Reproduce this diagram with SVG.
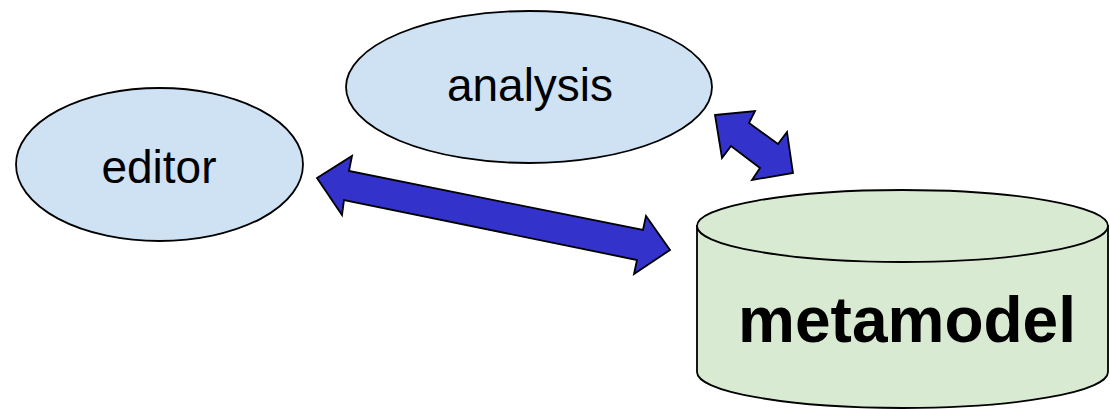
<svg xmlns="http://www.w3.org/2000/svg" width="1110" height="409" viewBox="0 0 1110 409">
<style>
.node{fill:#cfe2f3;stroke:#000;stroke-width:1.8}
.db{fill:#d9ead3;stroke:#000;stroke-width:1.8}
.lbl{font-family:"Liberation Sans",Arial,sans-serif;font-size:46px;fill:#000;text-anchor:middle}
.big{font-family:"Liberation Sans",Arial,sans-serif;font-size:64px;font-weight:bold;fill:#000;text-anchor:middle}
.arr{fill:#3333cc;stroke:#000;stroke-width:1.8;stroke-linejoin:miter}
</style>
<rect width="1110" height="409" fill="#fff"/>
<g id="editor">
<ellipse class="node" cx="159.5" cy="164.5" rx="143.5" ry="76.5"/>
<text class="lbl" x="159" y="183">editor</text>
</g>
<g id="analysis">
<ellipse class="node" cx="529" cy="87" rx="183" ry="76"/>
<text class="lbl" x="530" y="101">analysis</text>
</g>
<g id="metamodel">
<path class="db" d="M697,226 L697,372 A205.5,36 0 0 0 1108,372 L1108,226 Z"/>
<ellipse class="db" cx="902.5" cy="226" rx="205.5" ry="36"/>
<text class="big" x="907" y="342">metamodel</text>
</g>
<g id="connectors">
<path class="arr" d="M317,178 L352,156 L349,171 L643,230 L646,216 L670,250 L634,274 L637,260 L344,200 L342,215 Z"/>
<path class="arr" d="M715,115 L755,111 L749,123 L778,144 L787,132 L793,173 L752,180 L760,168 L731,146 L722,158 Z"/>
</g>
</svg>
